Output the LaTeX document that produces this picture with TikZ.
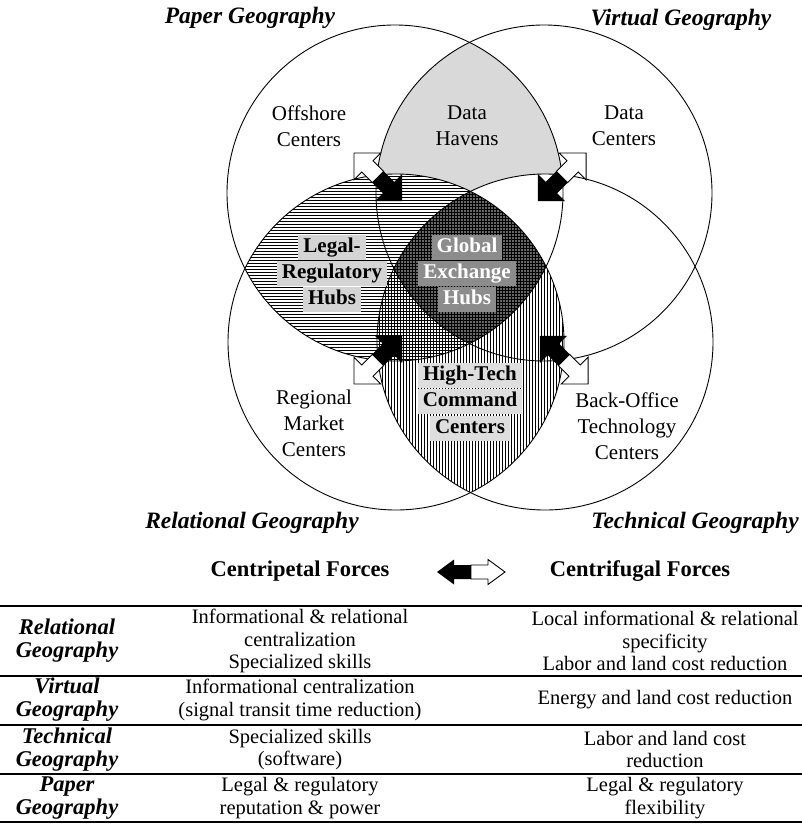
\documentclass[tikz,border=0pt]{standalone}
\usepackage{fontspec}
\setmainfont{Liberation Serif}
\definecolor{havengray}{gray}{0.85}
\definecolor{globalgray}{gray}{0.40}
\definecolor{legbox}{gray}{0.83}
\definecolor{globox}{gray}{0.55}
\definecolor{techbox}{gray}{0.87}
\tikzset{
 ring/.style={draw=black, line width=0.9pt},
 hatch/.style={line width=0.65pt, black},
 lab/.style={align=center, font=\fontsize{21}{26}\selectfont, inner sep=0pt},
 boxlab/.style={font=\bfseries\fontsize{21}{26}\selectfont, inner xsep=5pt, inner ysep=3pt, text height=14.5pt, text depth=4.5pt},
 geo/.style={font=\bfseries\itshape\fontsize{23.5}{26}\selectfont, inner sep=0pt},
 hdr/.style={font=\bfseries\fontsize{22.5}{24}\selectfont, inner sep=0pt},
 cell/.style={align=center, font=\fontsize{20.5}{22.5}\selectfont, inner sep=0pt},
 rowlab/.style={align=center, font=\bfseries\itshape\fontsize{22.5}{23}\selectfont, inner sep=0pt},
 tabrule/.style={line width=1.1pt},
}
\newcommand{\dblarr}[6]{%
\begin{scope}[shift={(#1,#2)}, rotate=#3]
\fill[black] (0.5,-#6) -- ({-34+#4},-#6) -- ({-34+#4},-#5) -- (-34,0) -- ({-34+#4},#5) -- ({-34+#4},#6) -- (0.5,#6) -- cycle;
\filldraw[fill=white, draw=black, line width=0.9pt] (0,-#6) -- ({34-#4},-#6) -- ({34-#4},-#5) -- (34,0) -- ({34-#4},#5) -- ({34-#4},#6) -- (0,#6) -- cycle;
\end{scope}}
\begin{document}
\begin{tikzpicture}[x=1pt,y=-1pt]
\useasboundingbox (0,0) rectangle (802,824);
\def\R{168pt}
\coordinate (P) at (395,193);
\coordinate (V) at (544,193);
\coordinate (L) at (396,342);
\coordinate (T) at (545,342);
% Data havens
\begin{scope}
\clip (P) circle[radius=\R];
\clip (V) circle[radius=\R];
\fill[havengray] (300,0) rectangle (650,400);
\end{scope}
\fill[white] (L) circle[radius=\R];
\fill[white] (T) circle[radius=\R];
% global exchange dark area
\begin{scope}
\clip (P) circle[radius=\R];
\clip (V) circle[radius=\R];
\clip (L) circle[radius=\R];
\clip (T) circle[radius=\R];
\fill[globalgray] (300,150) rectangle (650,400);
\end{scope}
% horizontal hatch (paper & relational)
\begin{scope}
\clip (P) circle[radius=\R];
\clip (L) circle[radius=\R];
\foreach \yy in {170,173,...,365} \draw[hatch] (220,\yy) -- (580,\yy);
\end{scope}
% vertical hatch (relational & technical)
\begin{scope}
\clip (L) circle[radius=\R];
\clip (T) circle[radius=\R];
\foreach \xx in {370,373,...,572} \draw[hatch] (\xx,170) -- (\xx,500);
\end{scope}
% circles
\draw[ring] (P) circle[radius=\R];
\draw[ring] (V) circle[radius=\R];
\draw[ring] (L) circle[radius=\R];
\draw[ring] (T) circle[radius=\R];
% titles
\node[geo] (tpaper) at (250,18) {Paper Geography};
\node[geo] (tvirtual) at (681,20) {Virtual Geography};
\node[geo] (trel) at (252,523) {Relational Geography};
\node[geo] (ttech) at (695,523) {Technical Geography};
% region labels
\node[lab] (offshore) at (309,126) {Offshore\\Centers};
\node[lab] (havens) at (467,126) {Data\\Havens};
\node[lab] (dcenters) at (624,126) {Data\\Centers};
\node[lab] (regional) at (314,423) {Regional\\Market\\Centers};
\node[lab] (backoffice) at (627,426) {Back-Office\\Technology\\Centers};
\node[boxlab, fill=legbox] (leg1) at (332,247) {Legal-};
\node[boxlab, fill=legbox] (leg2) at (332,273) {Regulatory};
\node[boxlab, fill=legbox] (leg3) at (332,299) {Hubs};
\node[boxlab, fill=globox, text=white] (glo1) at (467,247) {Global};
\node[boxlab, fill=globox, text=white] (glo2) at (467,273) {Exchange};
\node[boxlab, fill=globox, text=white] (glo3) at (467,299) {Hubs};
\node[boxlab, fill=techbox] (ht1) at (470,375) {High-Tech};
\node[boxlab, fill=techbox] (ht2) at (470,401) {Command};
\node[boxlab, fill=techbox] (ht3) at (470,428) {Centers};
% force arrows
\dblarr{378}{177}{135}{19}{19}{8}
\dblarr{562}{177}{45}{19}{19}{8}
\dblarr{378}{360}{225}{19}{19}{8}
\dblarr{564}{360}{-45}{19}{19}{8}
\dblarr{471}{572}{0}{17}{12.5}{7}
% table header
\node[hdr] (centripetal) at (300,571) {Centripetal Forces};
\node[hdr] (centrifugal) at (640,571) {Centrifugal Forces};
\draw[tabrule] (0,606) -- (802,606);
\draw[tabrule] (0,676) -- (802,676);
\draw[tabrule] (0,725) -- (802,725);
\draw[tabrule] (0,774) -- (802,774);
\draw[tabrule] (0,822) -- (802,822);
% rows
\node[rowlab] (r1) at (67,641) {Relational\\Geography};
\node[cell] (r1a) at (300,641) {Informational \& relational\\centralization\\Specialized skills};
\node[cell] (r1b) at (665,641) {Local informational \& relational\\specificity\\Labor and land cost reduction};
\node[rowlab] (r2) at (67,700) {Virtual\\Geography};
\node[cell] (r2a) at (300,700) {Informational centralization\\(signal transit time reduction)};
\node[cell] (r2b) at (665,700) {Energy and land cost reduction};
\node[rowlab] (r3) at (67,749.5) {Technical\\Geography};
\node[cell] (r3a) at (300,749.5) {Specialized skills\\(software)};
\node[cell] (r3b) at (665,749.5) {Labor and land cost\\reduction};
\node[rowlab] (r4) at (67,798) {Paper\\Geography};
\node[cell] (r4a) at (300,798) {Legal \& regulatory\\reputation \& power};
\node[cell] (r4b) at (665,798) {Legal \& regulatory\\flexibility};
\end{tikzpicture}
\end{document}
